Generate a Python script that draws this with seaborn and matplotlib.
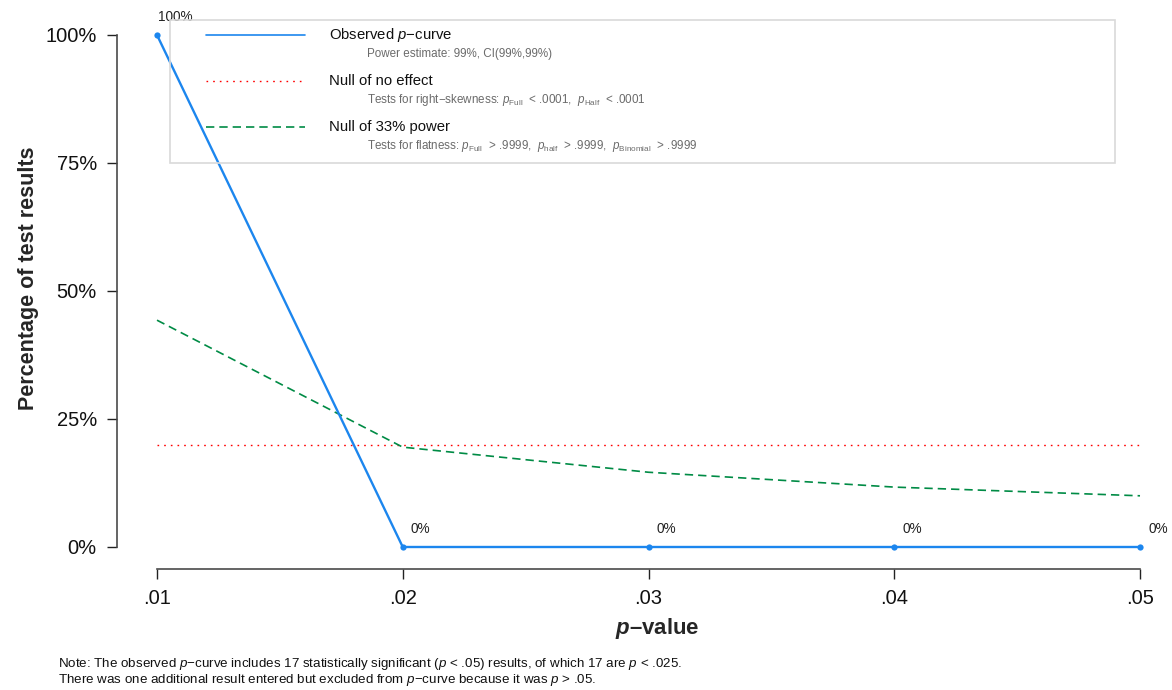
import matplotlib
matplotlib.use("Agg")
import matplotlib.pyplot as plt
from matplotlib.lines import Line2D
from matplotlib.patches import Rectangle
import seaborn as sns
import pandas as pd

# ---- data ----
p_values = [0.01, 0.02, 0.03, 0.04, 0.05]
observed_pct = [100, 0, 0, 0, 0]
null_no_effect_pct = [20, 20, 20, 20, 20]
null_33_power_pct = [44.3, 19.5, 14.6, 11.7, 10.0]
x_tick_labels = [".01", ".02", ".03", ".04", ".05"]
y_ticks = [0, 25, 50, 75, 100]
y_tick_labels = ["0%", "25%", "50%", "75%", "100%"]
n_significant = 17
n_below_025 = 17

sns.set_theme(style="ticks")
plt.rcParams["font.family"] = ["Liberation Sans", "DejaVu Sans"]
plt.rcParams["mathtext.fontset"] = "custom"
plt.rcParams["mathtext.rm"] = "Liberation Sans"
plt.rcParams["mathtext.it"] = "Liberation Sans:italic"
plt.rcParams["mathtext.bf"] = "Liberation Sans:bold"
plt.rcParams["mathtext.bfit"] = "Liberation Sans:italic:bold"

W, H = 1172, 690
fig = plt.figure(figsize=(W / 100, H / 100), dpi=100)

# plot region in pixel terms
left_px, right_px, top_px, bottom_px = 117, 1172, 14.5, 569
x0_px, x1_px = 157, 1140          # pixel positions of .01 and .05
y0_px, y100_px = 547, 35          # pixel positions of 0% and 100%
ax = fig.add_axes([left_px / W, 1 - bottom_px / H,
                   (right_px - left_px) / W, (bottom_px - top_px) / H])
xs = (x1_px - x0_px) / (p_values[-1] - p_values[0])
ys = (y0_px - y100_px) / 100.0
ax.set_xlim(p_values[0] - (x0_px - left_px) / xs, p_values[0] + (right_px - x0_px) / xs)
ax.set_ylim(-(bottom_px - y0_px) / ys, (y0_px - top_px) / ys)

df = pd.DataFrame({"p": p_values, "observed": observed_pct,
                   "null0": null_no_effect_pct, "null33": null_33_power_pct})

blue = "#1C86EE"
red = "#FF0000"
green = "#008B45"

sns.lineplot(data=df, x="p", y="null0", ax=ax, color=red, lw=1.0,
             linestyle=(0, (1.2, 3.6)), legend=False)
sns.lineplot(data=df, x="p", y="null33", ax=ax, color=green, lw=1.2,
             linestyle=(0, (5, 3)), legend=False)
sns.lineplot(data=df, x="p", y="observed", ax=ax, color=blue, lw=1.7,
             marker="o", markersize=4.5, markeredgewidth=0, legend=False)

for xv, yv in zip(p_values, observed_pct):
    ax.annotate(f"{yv:g}%", (xv, yv), xytext=(13, 13), textcoords="offset points",
                ha="center", va="center", fontsize=9.8, color="#222222",
                annotation_clip=False)

# axes in the detached style
for s in ("top", "right"):
    ax.spines[s].set_visible(False)
ax.spines["left"].set_bounds(0, 100)
ax.spines["bottom"].set_bounds(p_values[0], p_values[-1])
for s in ("left", "bottom"):
    ax.spines[s].set_color("#4a4a4a")
    ax.spines[s].set_linewidth(1.2)
ax.set_xticks(p_values)
ax.set_xticklabels(x_tick_labels)
ax.set_yticks(y_ticks)
ax.set_yticklabels(y_tick_labels)
ax.tick_params(axis="both", length=7.5, width=1.0, color="#222222",
               labelsize=14.5, labelcolor="#111111", pad=7)
ax.set_xlabel(r"$\mathbfit{p}$–value", fontsize=16, fontweight="bold", labelpad=6)
ax.set_ylabel("Percentage of test results", fontsize=15.5, fontweight="bold", labelpad=5)
ax.xaxis.label.set_x((657 - left_px) / (right_px - left_px))
ax.yaxis.label.set_y((bottom_px - 278) / (bottom_px - top_px))
ax.grid(False)


def fx(x):
    return x / W


def fy(y):
    return 1 - y / H


# legend box
fig.add_artist(Rectangle((fx(170), fy(163)), (1115 - 170) / W, (163 - 20) / H,
                         transform=fig.transFigure, fill=False,
                         edgecolor="#d9d9d9", lw=1.2))
legend_rows = [
    (35, dict(color=blue, lw=1.2, linestyle="-"),
     r"Observed $p$−curve",
     "Power estimate: 99%, CI(99%,99%)"),
    (81, dict(color=red, lw=1.0, linestyle=(0, (1.2, 3.6))),
     "Null of no effect",
     r"Tests for right−skewness: $p_{\mathrm{Full}}$  < .0001,  $p_{\mathrm{Half}}$  < .0001"),
    (127, dict(color=green, lw=1.2, linestyle=(0, (5, 3))),
     "Null of 33% power",
     r"Tests for flatness: $p_{\mathrm{Full}}$  > .9999,  $p_{\mathrm{half}}$  > .9999,  $p_{\mathrm{Binomial}}$  > .9999"),
]
for ypx, style, title, sub in legend_rows:
    fig.add_artist(Line2D([fx(206), fx(305)], [fy(ypx), fy(ypx)],
                          transform=fig.transFigure, **style))
    fig.text(fx(329), fy(ypx), title, fontsize=10.7, color="#111111",
             ha="left", va="center")
    fig.text(fx(367), fy(ypx + 19.5), sub, fontsize=8.4, color="#6b6b6b",
             ha="left", va="center")

# footnote
fig.text(fx(58), fy(664),
         rf"Note: The observed $p$−curve includes {n_significant} statistically significant "
         rf"($p$ < .05) results, of which {n_below_025} are $p$ < .025.",
         fontsize=9.6, color="#111111", ha="left", va="center")
fig.text(fx(58), fy(680),
         r"There was one additional result entered but excluded from $p$−curve because it was $p$ > .05.",
         fontsize=9.6, color="#111111", ha="left", va="center")

fig.savefig("out.png", dpi=100)
